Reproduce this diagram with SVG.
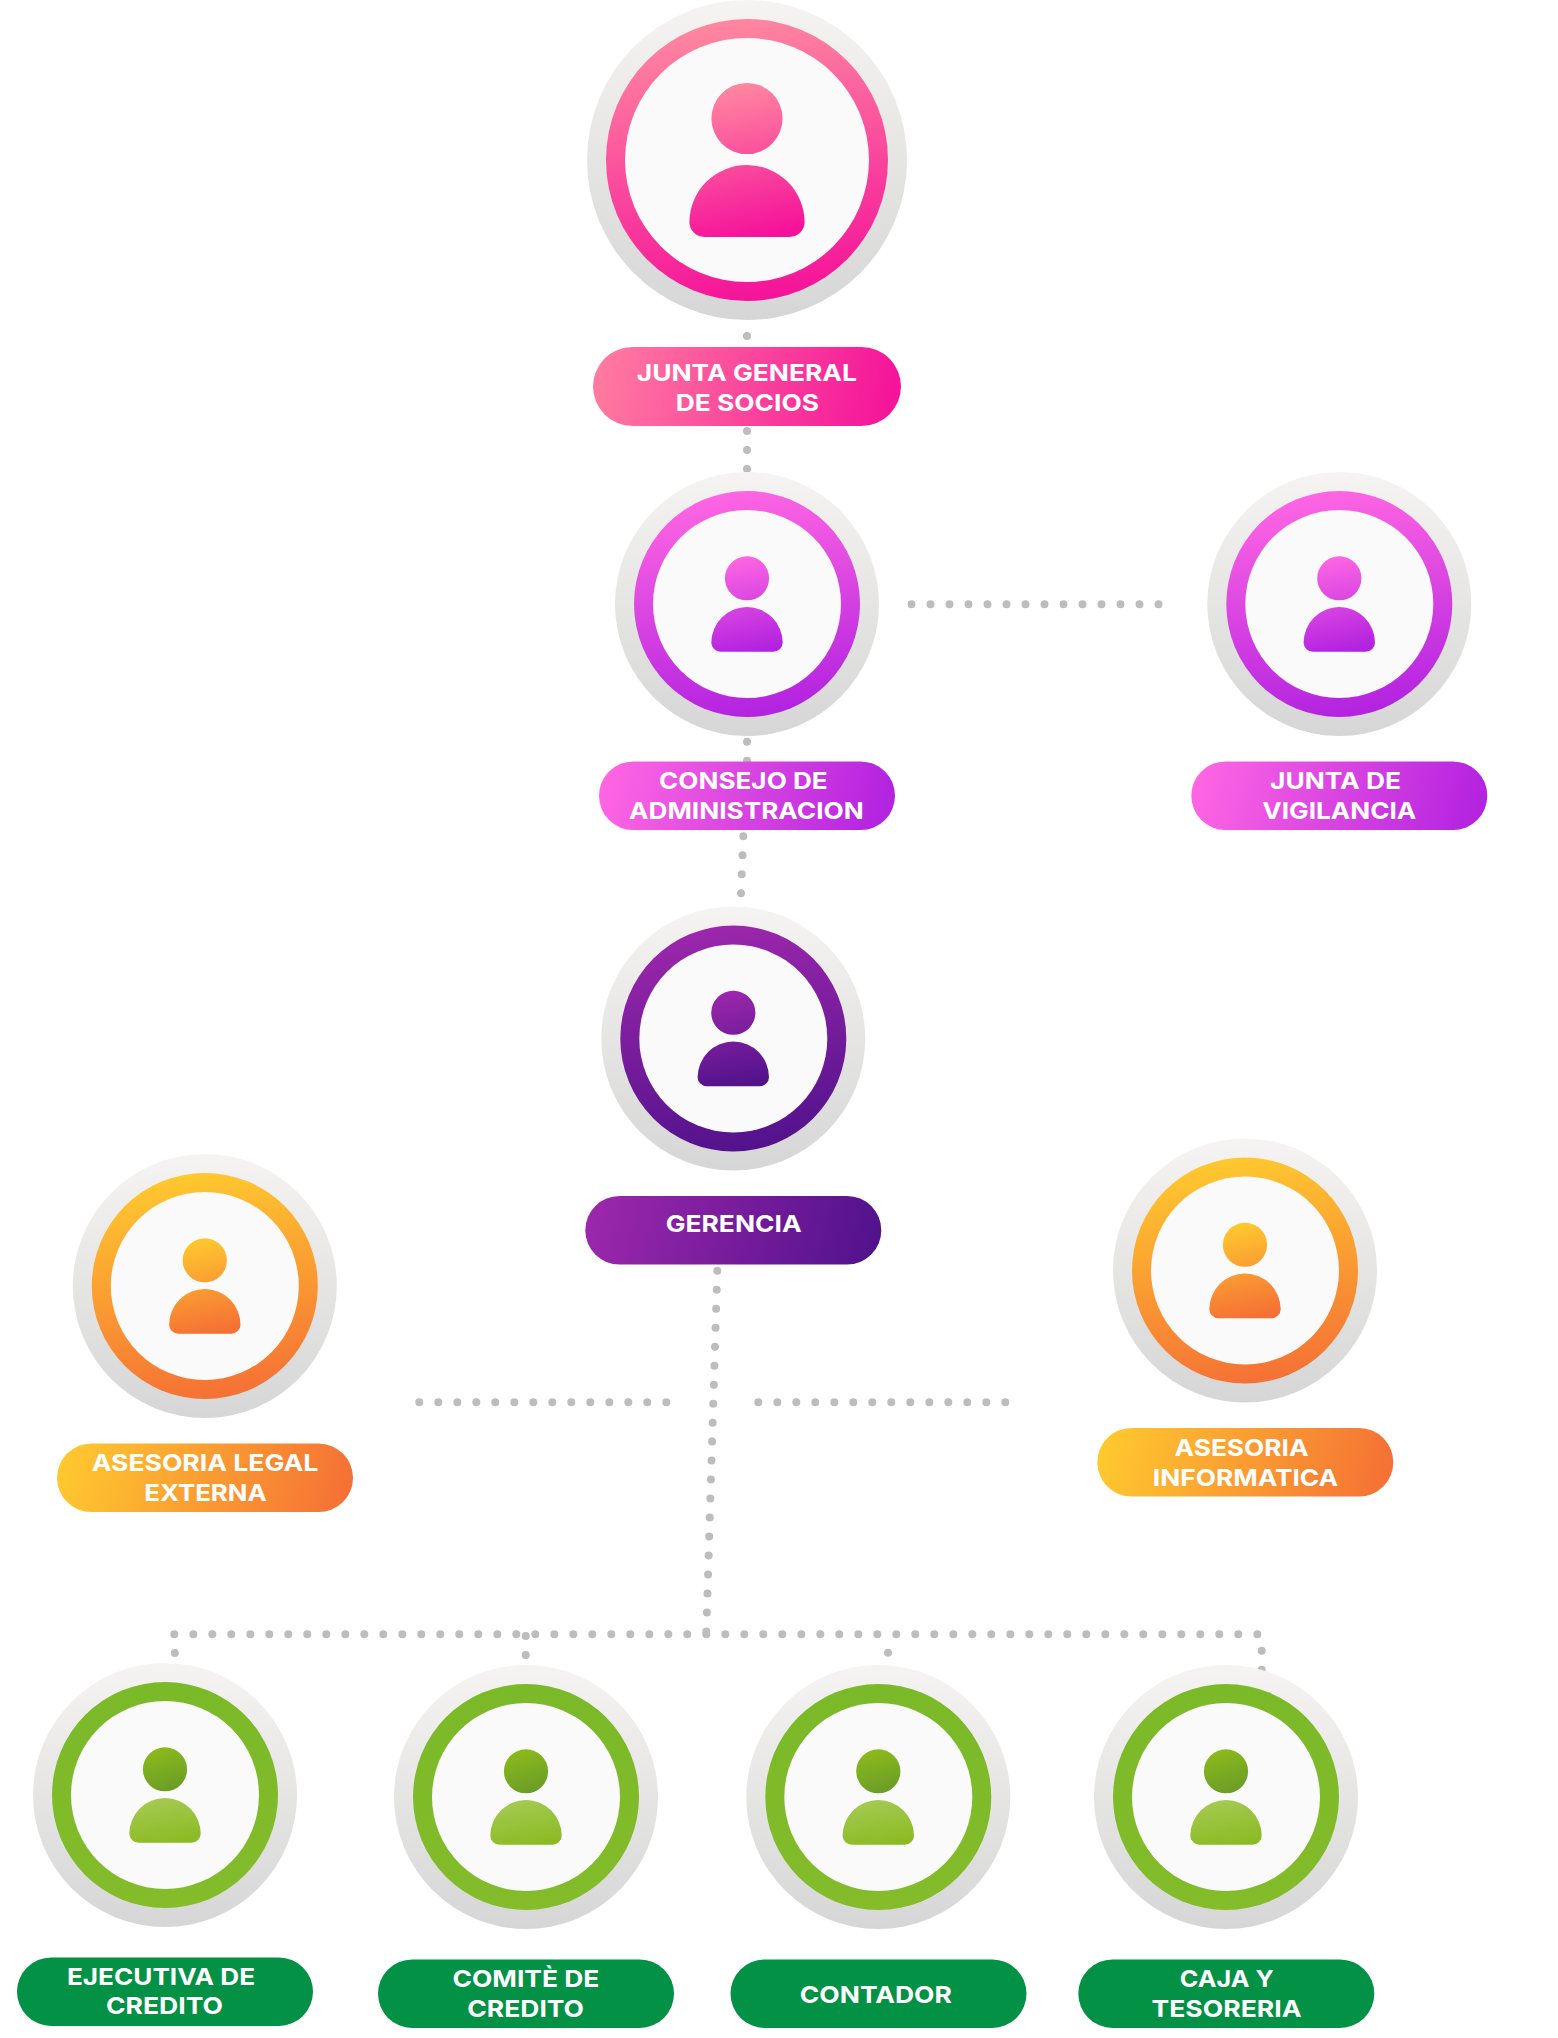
<svg xmlns="http://www.w3.org/2000/svg" xmlns:xlink="http://www.w3.org/1999/xlink" width="1558" height="2038" viewBox="0 0 1558 2038">
<style>
.dots{fill:none;stroke:#bdbdbd;stroke-width:8;stroke-linecap:round;stroke-dasharray:0 19}
.lbl{font-family:"Inter","Open Sans","Liberation Sans",sans-serif;font-weight:700;font-size:23.5px;fill:#fff}
.disc{fill:url(#gDisc)}
.in{fill:#fafafa}
</style>
<defs>
<linearGradient id="gDisc" x1="0" y1="0" x2="0" y2="1"><stop offset="0" stop-color="#f5f4f2"/><stop offset="1" stop-color="#d6d6d6"/></linearGradient>
<linearGradient id="rPink" x1=".42" y1="0" x2=".58" y2="1"><stop offset="0" stop-color="#ff88a0"/><stop offset="1" stop-color="#f5129a"/></linearGradient>
<linearGradient id="bPink" x1="0" y1=".47" x2="1" y2=".53"><stop offset="0" stop-color="#ff7ba0"/><stop offset="1" stop-color="#f5129a"/></linearGradient>
<linearGradient id="rMag" x1=".42" y1="0" x2=".58" y2="1"><stop offset="0" stop-color="#ff66e3"/><stop offset="1" stop-color="#b222e0"/></linearGradient>
<linearGradient id="bMag" x1="0" y1=".47" x2="1" y2=".53"><stop offset="0" stop-color="#ff66e3"/><stop offset="1" stop-color="#b222e0"/></linearGradient>
<linearGradient id="rPur" x1=".42" y1="0" x2=".58" y2="1"><stop offset="0" stop-color="#9c27ac"/><stop offset="1" stop-color="#52128c"/></linearGradient>
<linearGradient id="bPur" x1="0" y1=".47" x2="1" y2=".53"><stop offset="0" stop-color="#9c27ac"/><stop offset="1" stop-color="#52128c"/></linearGradient>
<linearGradient id="rOrg" x1=".42" y1="0" x2=".58" y2="1"><stop offset="0" stop-color="#ffc92f"/><stop offset="1" stop-color="#f57035"/></linearGradient>
<linearGradient id="bOrg" x1="0" y1=".47" x2="1" y2=".53"><stop offset="0" stop-color="#ffc92f"/><stop offset="1" stop-color="#f57035"/></linearGradient>
<linearGradient id="rGrn" x1="0" y1="0" x2="0" y2="1"><stop offset="0" stop-color="#7ab928"/><stop offset="1" stop-color="#84bc2a"/></linearGradient>
<linearGradient id="hGrn" x1=".35" y1="0" x2=".65" y2="1"><stop offset="0" stop-color="#8cba1c"/><stop offset="1" stop-color="#6a9c26"/></linearGradient>
<linearGradient id="tGrn" x1=".35" y1="0" x2=".65" y2="1"><stop offset="0" stop-color="#a5ca52"/><stop offset="1" stop-color="#8abb22"/></linearGradient>
<path id="pHead" d="M-35.6-41.5a35.6 35.6 0 1 1 71.2 0a35.6 35.6 0 1 1-71.2 0z"/>
<path id="pBody" d="M-42.6 77H42.6a15 15 0 0 0 15-15v.6a57.6 57.6 0 0 0-115.2 0V62a15 15 0 0 0 15 15z"/>
<path id="pAll" d="M-35.6-41.5a35.6 35.6 0 1 1 71.2 0a35.6 35.6 0 1 1-71.2 0zM-42.6 77H42.6a15 15 0 0 0 15-15v.6a57.6 57.6 0 0 0-115.2 0V62a15 15 0 0 0 15 15z"/>
</defs>
<rect width="1558" height="2038" fill="#fff"/>
<g id="connectors">
<path class="dots" d="M747 336V490"/>
<path class="dots" d="M747 741.7V780"/>
<path class="dots" d="M743.3 836.3L741 893.4"/>
<path class="dots" d="M911.5 604.3H1158.6"/>
<path class="dots" d="M717.3 1270.7L706.3 1631.8"/>
<path class="dots" d="M419.3 1402.3H666.4"/>
<path class="dots" d="M758.3 1402.3H1005.4"/>
<path class="dots" d="M174.3 1634.3H1257.4"/>
<path class="dots" d="M174.8 1653V1653.1"/>
<path class="dots" d="M525.7 1636V1655.1"/>
<path class="dots" d="M888 1652.7V1652.8"/>
<path class="dots" d="M1261.7 1650.7V1669.8"/>
</g>
<g id="node-junta-general">
<circle class="disc" cx="747" cy="160" r="160"/><circle cx="747" cy="160" r="141" fill="url(#rPink)"/><circle class="in" cx="747" cy="160" r="122"/>
<use href="#pAll" transform="translate(747 160)" fill="url(#rPink)"/>
<rect x="593" y="347" width="308" height="79" rx="39.5" fill="url(#bPink)"/>
<text class="lbl" x="636.7" y="380.5" textLength="220.3" lengthAdjust="spacingAndGlyphs">JUNTA GENERAL</text>
<text class="lbl" x="675.7" y="410.5" textLength="143.3" lengthAdjust="spacingAndGlyphs">DE SOCIOS</text>
</g>
<g id="node-consejo">
<circle class="disc" cx="747" cy="604" r="132"/><circle cx="747" cy="604" r="113" fill="url(#rMag)"/><circle class="in" cx="747" cy="604" r="94"/>
<use href="#pAll" transform="translate(747 604) scale(.62)" fill="url(#rMag)"/>
<rect x="599" y="761.5" width="296" height="68.5" rx="34.2" fill="url(#bMag)"/>
<text class="lbl" x="659" y="789" textLength="168.7" lengthAdjust="spacingAndGlyphs">CONSEJO DE</text>
<text class="lbl" x="629" y="819" textLength="234.7" lengthAdjust="spacingAndGlyphs">ADMINISTRACION</text>
</g>
<g id="node-vigilancia">
<circle class="disc" cx="1339.3" cy="604" r="132"/><circle cx="1339.3" cy="604" r="113" fill="url(#rMag)"/><circle class="in" cx="1339.3" cy="604" r="94"/>
<use href="#pAll" transform="translate(1339.3 604) scale(.62)" fill="url(#rMag)"/>
<rect x="1191.3" y="761.5" width="296" height="68.5" rx="34.2" fill="url(#bMag)"/>
<text class="lbl" x="1270" y="789" textLength="131" lengthAdjust="spacingAndGlyphs">JUNTA DE</text>
<text class="lbl" x="1262.3" y="819" textLength="154" lengthAdjust="spacingAndGlyphs">VIGILANCIA</text>
</g>
<g id="node-gerencia">
<circle class="disc" cx="733.3" cy="1038.5" r="132"/><circle cx="733.3" cy="1038.5" r="113" fill="url(#rPur)"/><circle class="in" cx="733.3" cy="1038.5" r="94"/>
<use href="#pAll" transform="translate(733.3 1038.5) scale(.62)" fill="url(#rPur)"/>
<rect x="585.3" y="1196" width="296" height="68.5" rx="34.2" fill="url(#bPur)"/>
<text class="lbl" x="665.7" y="1231.7" textLength="136" lengthAdjust="spacingAndGlyphs">GERENCIA</text>
</g>
<g id="node-asesoria-legal">
<circle class="disc" cx="204.8" cy="1286" r="132"/><circle cx="204.8" cy="1286" r="113" fill="url(#rOrg)"/><circle class="in" cx="204.8" cy="1286" r="94"/>
<use href="#pAll" transform="translate(204.8 1286) scale(.62)" fill="url(#rOrg)"/>
<rect x="57" y="1443.6" width="296" height="68.5" rx="34.2" fill="url(#bOrg)"/>
<text class="lbl" x="91.7" y="1471" textLength="226.6" lengthAdjust="spacingAndGlyphs">ASESORIA LEGAL</text>
<text class="lbl" x="144.3" y="1501" textLength="122.4" lengthAdjust="spacingAndGlyphs">EXTERNA</text>
</g>
<g id="node-asesoria-informatica">
<circle class="disc" cx="1245" cy="1270.5" r="132"/><circle cx="1245" cy="1270.5" r="113" fill="url(#rOrg)"/><circle class="in" cx="1245" cy="1270.5" r="94"/>
<use href="#pAll" transform="translate(1245 1270.5) scale(.62)" fill="url(#rOrg)"/>
<rect x="1097.3" y="1428" width="296" height="68.5" rx="34.2" fill="url(#bOrg)"/>
<text class="lbl" x="1174.5" y="1455.7" textLength="134" lengthAdjust="spacingAndGlyphs">ASESORIA</text>
<text class="lbl" x="1152.8" y="1486" textLength="185.4" lengthAdjust="spacingAndGlyphs">INFORMATICA</text>
</g>
<g id="node-ejecutiva">
<circle class="disc" cx="165" cy="1795" r="132"/><circle cx="165" cy="1795" r="113" fill="url(#rGrn)"/><circle class="in" cx="165" cy="1795" r="94"/>
<use href="#pHead" transform="translate(165 1795) scale(.62)" fill="url(#hGrn)"/><use href="#pBody" transform="translate(165 1795) scale(.62)" fill="url(#tGrn)"/>
<rect x="17" y="1957.4" width="296" height="68.5" rx="34.2" fill="#029145"/>
<text class="lbl" x="67" y="1984.8" textLength="188" lengthAdjust="spacingAndGlyphs">EJECUTIVA DE</text>
<text class="lbl" x="106" y="2014.3" textLength="117" lengthAdjust="spacingAndGlyphs">CREDITO</text>
</g>
<g id="node-comite">
<circle class="disc" cx="526" cy="1797" r="132"/><circle cx="526" cy="1797" r="113" fill="url(#rGrn)"/><circle class="in" cx="526" cy="1797" r="94"/>
<use href="#pHead" transform="translate(526 1797) scale(.62)" fill="url(#hGrn)"/><use href="#pBody" transform="translate(526 1797) scale(.62)" fill="url(#tGrn)"/>
<rect x="378" y="1959.4" width="296" height="68.5" rx="34.2" fill="#029145"/>
<text class="lbl" x="452.5" y="1986.7" textLength="146.7" lengthAdjust="spacingAndGlyphs">COMITÈ DE</text>
<text class="lbl" x="467.3" y="2016.7" textLength="116.7" lengthAdjust="spacingAndGlyphs">CREDITO</text>
</g>
<g id="node-contador">
<circle class="disc" cx="878.3" cy="1797" r="132"/><circle cx="878.3" cy="1797" r="113" fill="url(#rGrn)"/><circle class="in" cx="878.3" cy="1797" r="94"/>
<use href="#pHead" transform="translate(878.3 1797) scale(.62)" fill="url(#hGrn)"/><use href="#pBody" transform="translate(878.3 1797) scale(.62)" fill="url(#tGrn)"/>
<rect x="730.5" y="1959.4" width="296" height="68.5" rx="34.2" fill="#029145"/>
<text class="lbl" x="799.8" y="2002.7" textLength="152" lengthAdjust="spacingAndGlyphs">CONTADOR</text>
</g>
<g id="node-caja">
<circle class="disc" cx="1226" cy="1797" r="132"/><circle cx="1226" cy="1797" r="113" fill="url(#rGrn)"/><circle class="in" cx="1226" cy="1797" r="94"/>
<use href="#pHead" transform="translate(1226 1797) scale(.62)" fill="url(#hGrn)"/><use href="#pBody" transform="translate(1226 1797) scale(.62)" fill="url(#tGrn)"/>
<rect x="1078.3" y="1959.4" width="296" height="68.5" rx="34.2" fill="#029145"/>
<text class="lbl" x="1179.8" y="1986.7" textLength="94" lengthAdjust="spacingAndGlyphs">CAJA Y</text>
<text class="lbl" x="1151.5" y="2016.7" textLength="150" lengthAdjust="spacingAndGlyphs">TESORERIA</text>
</g>
</svg>
